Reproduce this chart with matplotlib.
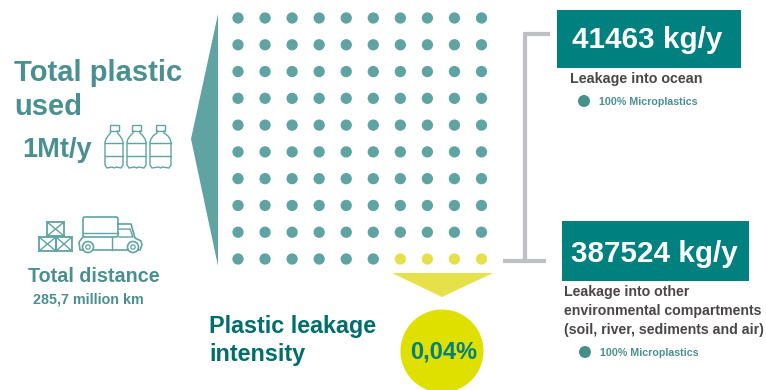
"""Plastic leakage infographic, drawn in pixel coordinates of the 766x390 figure."""

import numpy as np
import matplotlib
matplotlib.use('Agg')
import matplotlib.pyplot as plt
from matplotlib.patches import Circle, Polygon, Rectangle, FancyBboxPatch

plt.rcParams['font.family'] = ['Liberation Sans', 'DejaVu Sans']

TEAL = '#5FA3A3'
TEXT_TEAL = '#4A9090'
DARK_TEAL = '#00807F'
YELLOW = '#E6E14A'
LIME = '#E0E000'
GREY = '#BFC0C4'
BROWN = '#4A4648'
DOT_GREEN = '#45908A'

# unit chart: 10 x 10 dots, the last four of the bottom row are leaked
n_rows = 10
n_cols = 10
n_leaked = 4

total_used = '1Mt/y'
distance = '285,7 million km'
ocean_leak = '41463 kg/y'
other_leak = '387524 kg/y'
intensity = '0,04%'
micro_label = '100% Microplastics'

fig = plt.figure(figsize=(7.66, 3.90), dpi=100)
ax = fig.add_axes([0, 0, 1, 1])
ax.set_xlim(0, 766)
ax.set_ylim(390, 0)
ax.axis('off')

# ============ Dot grid ============
col_x = np.linspace(238, 481.5, n_cols)
row_y = np.linspace(18, 259, n_rows)
xx, yy = np.meshgrid(col_x, row_y)
colors = np.full(xx.shape, TEAL, dtype=object)
colors[-1, n_cols - n_leaked:] = YELLOW
ax.scatter(xx.ravel(), yy.ravel(), s=66, c=colors.ravel(), linewidths=0, zorder=3)

# big funnels
ax.add_patch(Polygon([(218, 14), (218, 266), (191, 139)], closed=True, color=TEAL, lw=0))
ax.add_patch(Polygon([(392, 273), (493, 273), (442, 297)], closed=True, color=YELLOW, lw=0))

# ============ Left block ============
ax.text(14, 73, 'Total plastic', fontsize=21, fontweight='bold', color=TEXT_TEAL, va='center')
ax.text(14, 107, 'used', fontsize=21, fontweight='bold', color=TEXT_TEAL, va='center')
ax.text(22, 150, total_used, fontsize=19.5, fontweight='bold', color=TEXT_TEAL, va='center')
ax.text(28, 276, 'Total distance', fontsize=14.2, fontweight='bold', color=TEXT_TEAL, va='center')
ax.text(33, 300, distance, fontsize=10.3, fontweight='bold', color=TEXT_TEAL, va='center')


def draw_bottle(x, w):
    """Outline bottle, x is the left edge of the body, w its width."""
    lw = 1.0
    mid = x + w / 2
    ax.add_patch(Rectangle((mid - 4.5, 125), 9, 6, fill=False, ec=TEAL, lw=lw))
    ax.plot([mid - 3.5, mid - 3.5, x + 3, x + 1, x, x, x + 2, mid - 2, mid, mid + 2, x + w - 2,
             x + w, x + w, x + w - 1, x + w - 3, mid + 3.5, mid + 3.5],
            [131, 133, 136, 139, 142, 165, 168, 167, 168, 167, 168, 165, 142, 139, 136, 133, 131],
            color=TEAL, lw=lw)
    ax.plot([x, x + w], [143, 143], color=TEAL, lw=lw)
    ax.plot([x, x + w], [156, 156], color=TEAL, lw=lw)


for bx, bw in [(105, 18), (127, 19), (150, 21)]:
    draw_bottle(bx, bw)


def draw_crate(x, y, w, h):
    ax.add_patch(Rectangle((x, y), w, h, fill=False, ec=TEAL, lw=1.3))
    ax.plot([x, x + w], [y, y + h], color=TEAL, lw=1)
    ax.plot([x, x + w], [y + h, y], color=TEAL, lw=1)


draw_crate(47, 222, 17, 14)
draw_crate(39, 237, 17, 14)
draw_crate(56, 237, 16, 14)

# truck
ax.add_patch(FancyBboxPatch((83, 217), 35, 20, boxstyle='round,pad=0,rounding_size=2',
                            fill=False, ec=TEAL, lw=1.2))
ax.plot([83, 118], [233, 233], color=TEAL, lw=1)
ax.plot([118, 131, 135, 141, 142, 140, 80, 79, 83], [224, 224, 238, 241, 245, 250, 250, 242, 237],
        color=TEAL, lw=1.2)
ax.plot([119, 130, 133, 119], [229, 229, 237, 237], color=TEAL, lw=1)
ax.plot([112, 112], [237, 250], color=TEAL, lw=1)
for wx in [88, 133]:
    ax.add_patch(Circle((wx, 247), 5.5, fc='white', ec=TEAL, lw=1.2, zorder=4))
    ax.add_patch(Circle((wx, 247), 2.2, fc='white', ec=TEAL, lw=0.9, zorder=5))

# ============ Connector ============
ax.plot([550, 525, 525], [34, 34, 261], color=GREY, lw=3, solid_joinstyle='miter', solid_capstyle='butt')
ax.plot([503, 546], [261, 261], color=GREY, lw=3, solid_capstyle='butt')

# ============ Right block ============
ax.add_patch(Rectangle((557, 10), 184, 58, color=DARK_TEAL, lw=0))
ax.text(647, 40, ocean_leak, fontsize=21.3, fontweight='bold', color='white', ha='center', va='center')
ax.text(570, 79, 'Leakage into ocean', fontsize=10.3, fontweight='bold', color=BROWN, va='center')
ax.add_patch(Circle((584, 101), 6, color=DOT_GREEN, lw=0))
ax.text(599, 102, micro_label, fontsize=7.7, fontweight='bold', color=TEXT_TEAL, va='center')

ax.add_patch(Rectangle((562, 221), 187, 60, color=DARK_TEAL, lw=0))
ax.text(654.5, 254, other_leak, fontsize=21.3, fontweight='bold', color='white', ha='center', va='center')
for ty, line in zip([292, 311, 330], ['Leakage into other', 'environmental compartments',
                                      '(soil, river, sediments and air)']):
    ax.text(564, ty, line, fontsize=10.2, fontweight='bold', color=BROWN, va='center')
ax.add_patch(Circle((585, 352), 6, color=DOT_GREEN, lw=0))
ax.text(600, 353, micro_label, fontsize=7.7, fontweight='bold', color=TEXT_TEAL, va='center')

# ============ Intensity ============
ax.text(209, 327, 'Plastic leakage', fontsize=16.8, fontweight='bold', color='#006F6B', va='center')
ax.text(209, 354, 'intensity', fontsize=16.8, fontweight='bold', color='#006F6B', va='center')
ax.add_patch(Circle((442, 351), 41.5, color=LIME, lw=0))
ax.text(444, 352, intensity, fontsize=17, fontweight='bold', color=DARK_TEAL, ha='center', va='center')

fig.savefig('out.png', dpi=100)
